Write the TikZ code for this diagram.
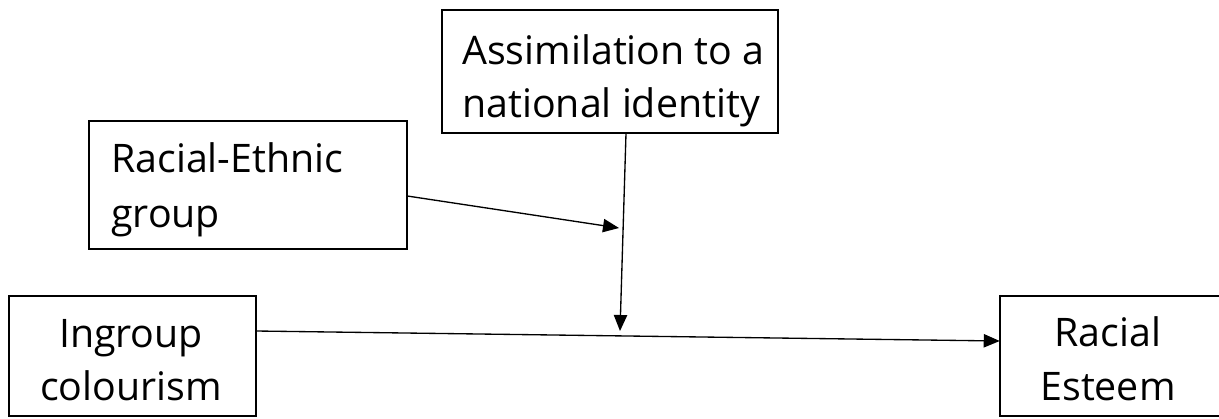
\documentclass[tikz,border=0pt]{standalone}
\usepackage{fontspec}
\setmainfont{Open Sans}
\usetikzlibrary{arrows.meta}
\begin{document}
\begin{tikzpicture}[x=0.75pt,y=-0.75pt,
  boxst/.style={draw=black,line width=1.9pt,inner sep=0pt},
  lbl/.style={inner sep=0pt,font=\fontsize{29.5}{40}\selectfont},
  arr/.style={line width=1pt,-{Triangle[length=12pt,width=10pt]}}]
\useasboundingbox (0,0) rectangle (1219,418);
\clip (0,0) rectangle (1219,418);
% boxes
\draw[boxst] (442,10) rectangle (778,133);
\node[inner sep=0pt,minimum width=336*0.75pt,minimum height=123*0.75pt] (as) at (610,71.5) {};
\draw[boxst] (89,121) rectangle (407,249);
\node[inner sep=0pt,minimum width=318*0.75pt,minimum height=128*0.75pt] (re) at (248,185) {};
\draw[boxst] (9,296) rectangle (256,416);
\node[inner sep=0pt,minimum width=247*0.75pt,minimum height=120*0.75pt] (ic) at (132.5,356) {};
\draw[boxst] (1000,296) -- (1270,296) (1000,416) -- (1270,416) (1000,294.8) -- (1000,417.2);
\node[inner sep=0pt,minimum width=240*0.75pt,minimum height=120*0.75pt] (es) at (1120,356) {};
% texts
\node[lbl,anchor=base west] (t1) at (462,64) {Assimilation to a};
\node[lbl,anchor=base west] (t2) at (462,117) {national identity};
\node[lbl,anchor=base west] (t3) at (111,172) {Racial-Ethnic};
\node[lbl,anchor=base west] (t4) at (111,227) {group};
\node[lbl,anchor=base] (t5) at (131,347) {Ingroup};
\node[lbl,anchor=base] (t6) at (131,400) {colourism};
\node[lbl,anchor=base] (t7) at (1108,346) {Racial};
\node[lbl,anchor=base] (t8) at (1108,400) {Esteem};
% connectors
\coordinate (m1) at (619,228);
\coordinate (m2) at (620,331);
\draw[arr] (as.south -| 626,0) -- (m2);
\draw[arr] (re.east |- 0,196) -- (m1);
\draw[arr] (ic.east |- 0,331) -- (es.west |- 0,341);
\end{tikzpicture}
\end{document}
